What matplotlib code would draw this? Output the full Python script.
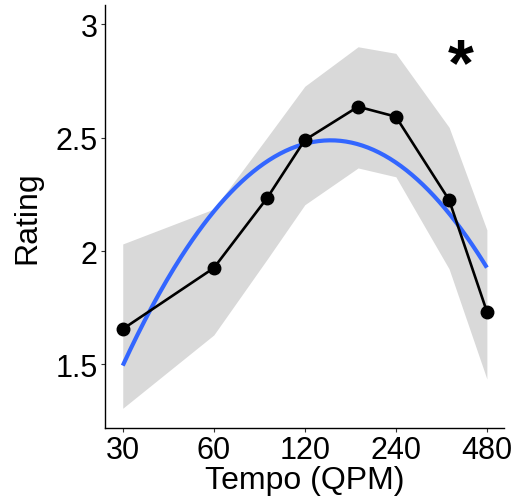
import numpy as np
import matplotlib
matplotlib.use("Agg")
import matplotlib.pyplot as plt
from matplotlib.ticker import FixedLocator, NullLocator

plt.rcParams['font.family'] = ['Liberation Sans', 'DejaVu Sans']

tempo = [30, 60, 90, 120, 180, 240, 360, 480]
rating_mean = [1.656, 1.925, 2.233, 2.489, 2.636, 2.592, 2.225, 1.733]
ci_upper = [2.031, 2.185, 2.50, 2.726, 2.90, 2.871, 2.545, 2.093]
ci_lower = [1.307, 1.630, 1.963, 2.204, 2.366, 2.327, 1.921, 1.436]
xticks = [30, 60, 120, 240, 480]
yticks = [1.5, 2, 2.5, 3]
ytick_labels = ["1.5", "2", "2.5", "3"]

fig = plt.figure(figsize=(5.15, 5.02), dpi=100)
ax = fig.add_axes([0.203, 0.1454, 0.776, 0.8426])

ax.set_xscale('log', base=2)
ax.fill_between(tempo, ci_lower, ci_upper, color='#d9d9d9', lw=0, zorder=1)

# quadratic fit in log tempo
t = np.log2(tempo)
coef = np.polyfit(t, rating_mean, 2)
tt = np.linspace(t.min(), t.max(), 200)
ax.plot(2 ** tt, np.polyval(coef, tt), color='#3366FF', lw=3.0, zorder=3, solid_capstyle='butt')

ax.plot(tempo, rating_mean, color='black', lw=1.9, zorder=4)
ax.plot(tempo, rating_mean, 'o', color='black', ms=9, zorder=5)

ax.set_xlim(30 * 2 ** -0.2, 30 * 2 ** 4.19)
ax.set_ylim(1.22, 3.084)
ax.xaxis.set_major_locator(FixedLocator(xticks))
ax.xaxis.set_minor_locator(NullLocator())
ax.set_xticklabels([str(v) for v in xticks])
ax.set_yticks(yticks)
ax.set_yticklabels(ytick_labels)

for s in ['top', 'right']:
    ax.spines[s].set_visible(False)
for s in ['left', 'bottom']:
    ax.spines[s].set_linewidth(1.0)
    ax.spines[s].set_color('black')
ax.tick_params(axis='both', length=3.0, width=0.8, color='#333333', labelsize=22, pad=2, labelcolor='black')

ax.set_xlabel('Tempo (QPM)', fontsize=23, labelpad=0)
ax.set_ylabel('Rating', fontsize=23, labelpad=9.5)

ax.text(0.892, 0.853, '*', transform=ax.transAxes, fontsize=48, fontweight='bold',
        ha='center', va='center')

fig.savefig('out.png', dpi=100)
